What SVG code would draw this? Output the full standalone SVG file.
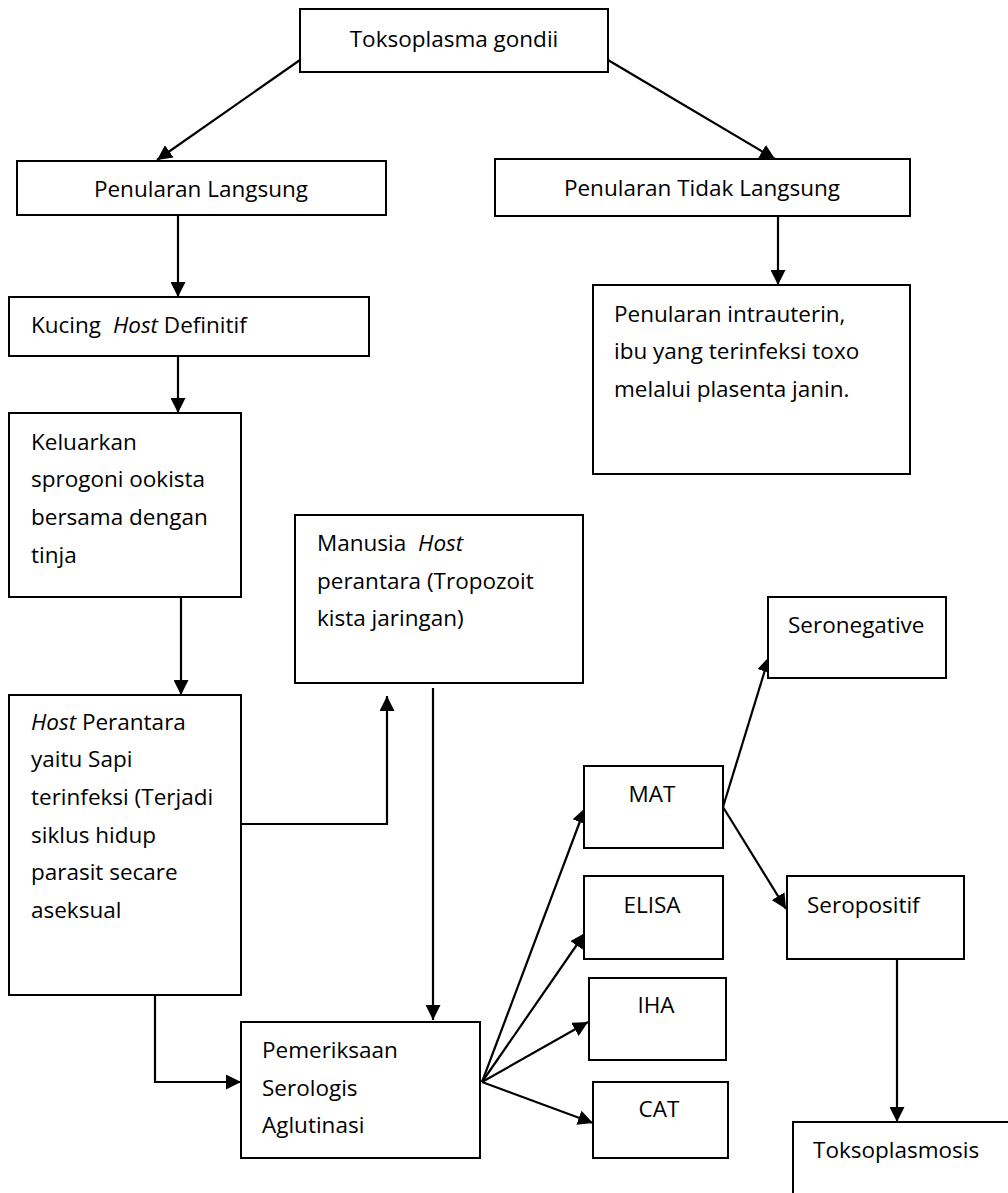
<svg xmlns="http://www.w3.org/2000/svg" width="1008" height="1193" viewBox="0 0 1008 1193">
<style>
.box{fill:#fff;stroke:#000;stroke-width:2}
.t{font-family:"Open Sans","DejaVu Sans",sans-serif;font-size:22.5px;fill:#000}
.c{text-anchor:middle}
.i{font-style:italic}
.ln{fill:none;stroke:#000;stroke-width:2.2}
</style>
<defs>
<marker id="ah" markerUnits="userSpaceOnUse" markerWidth="15" markerHeight="15" refX="15" refY="7.5" orient="auto">
<path d="M0,0 L15,7.5 L0,15 z" fill="#000"/>
</marker>
</defs>
<rect width="1008" height="1193" fill="#fff"/>
<g id="connectors">
<line class="ln" x1="300" y1="60" x2="157" y2="160" marker-end="url(#ah)"/>
<line class="ln" x1="608" y1="60" x2="775" y2="159" marker-end="url(#ah)"/>
<line class="ln" x1="178" y1="215" x2="178" y2="297" marker-end="url(#ah)"/>
<line class="ln" x1="778" y1="216" x2="778" y2="285" marker-end="url(#ah)"/>
<line class="ln" x1="178" y1="356" x2="178" y2="413" marker-end="url(#ah)"/>
<line class="ln" x1="181" y1="597" x2="181" y2="695" marker-end="url(#ah)"/>
<path class="ln" d="M241,824 H387 V696" marker-end="url(#ah)"/>
<line class="ln" x1="433" y1="688" x2="433" y2="1020" marker-end="url(#ah)"/>
<path class="ln" d="M155,995 V1082 H241" marker-end="url(#ah)"/>
<line class="ln" x1="482" y1="1082" x2="585" y2="808" marker-end="url(#ah)"/>
<line class="ln" x1="482" y1="1082" x2="585" y2="933" marker-end="url(#ah)"/>
<line class="ln" x1="482" y1="1082" x2="588" y2="1022" marker-end="url(#ah)"/>
<line class="ln" x1="482" y1="1082" x2="593" y2="1123" marker-end="url(#ah)"/>
<line class="ln" x1="723" y1="807" x2="769" y2="657" marker-end="url(#ah)"/>
<line class="ln" x1="723" y1="807" x2="786" y2="909" marker-end="url(#ah)"/>
<line class="ln" x1="897" y1="959" x2="897" y2="1122" marker-end="url(#ah)"/>
</g>
<g id="n-toksoplasma"><rect class="box" x="300" y="9" width="308" height="63"/><text class="t c" x="454" y="47">Toksoplasma gondii</text></g>
<g id="n-langsung"><rect class="box" x="17" y="161" width="369" height="54"/><text class="t c" x="201" y="197">Penularan Langsung</text></g>
<g id="n-tidak-langsung"><rect class="box" x="495" y="159" width="415" height="57"/><text class="t c" x="702" y="196">Penularan Tidak Langsung</text></g>
<g id="n-kucing"><rect class="box" x="9" y="297" width="360" height="59"/><text class="t" x="31" y="333">Kucing <tspan class="i" dx="6">Host</tspan> Definitif</text></g>
<g id="n-intrauterin"><rect class="box" x="593" y="285" width="317" height="189"/><text class="t" x="614" y="322">Penularan intrauterin,</text><text class="t" x="614" y="359">ibu yang terinfeksi toxo</text><text class="t" x="614" y="397">melalui plasenta janin.</text></g>
<g id="n-keluarkan"><rect class="box" x="9" y="413" width="232" height="184"/><text class="t" x="31" y="450">Keluarkan</text><text class="t" x="31" y="487">sprogoni ookista</text><text class="t" x="31" y="525">bersama dengan</text><text class="t" x="31" y="563">tinja</text></g>
<g id="n-manusia"><rect class="box" x="295" y="515" width="288" height="168"/><text class="t" x="317" y="551">Manusia <tspan class="i" dx="6">Host</tspan></text><text class="t" x="317" y="589">perantara (Tropozoit</text><text class="t" x="317" y="626">kista jaringan)</text></g>
<g id="n-host-perantara"><rect class="box" x="9" y="695" width="232" height="300"/><text class="t" x="31" y="730"><tspan class="i">Host</tspan> Perantara</text><text class="t" x="31" y="767">yaitu Sapi</text><text class="t" x="31" y="805">terinfeksi (Terjadi</text><text class="t" x="31" y="843">siklus hidup</text><text class="t" x="31" y="880">parasit secare</text><text class="t" x="31" y="918">aseksual</text></g>
<g id="n-pemeriksaan"><rect class="box" x="241" y="1022" width="239" height="136"/><text class="t" x="262" y="1058">Pemeriksaan</text><text class="t" x="262" y="1096">Serologis</text><text class="t" x="262" y="1133">Aglutinasi</text></g>
<g id="n-mat"><rect class="box" x="584" y="766" width="139" height="82"/><text class="t c" x="652" y="802">MAT</text></g>
<g id="n-elisa"><rect class="box" x="584" y="876" width="139" height="83"/><text class="t c" x="652" y="913">ELISA</text></g>
<g id="n-iha"><rect class="box" x="589" y="978" width="137" height="82"/><text class="t c" x="656" y="1013">IHA</text></g>
<g id="n-cat"><rect class="box" x="593" y="1082" width="135" height="76"/><text class="t c" x="659" y="1117">CAT</text></g>
<g id="n-seronegative"><rect class="box" x="768" y="597" width="178" height="81"/><text class="t" x="788" y="633">Seronegative</text></g>
<g id="n-seropositif"><rect class="box" x="787" y="876" width="177" height="83"/><text class="t" x="807" y="913">Seropositif</text></g>
<g id="n-toksoplasmosis"><rect class="box" x="793" y="1122" width="300" height="120"/><text class="t" x="813" y="1158">Toksoplasmosis</text></g>
</svg>
